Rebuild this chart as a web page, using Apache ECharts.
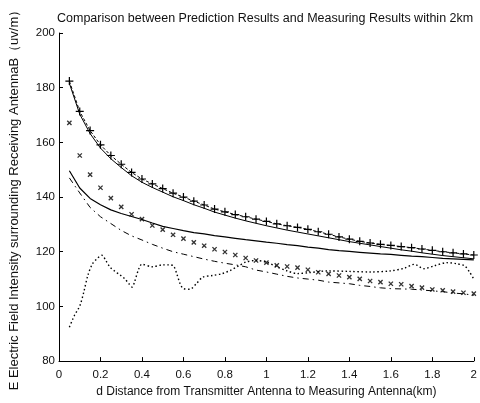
<!DOCTYPE html>
<html>
<head>
<meta charset="utf-8">
<script src="https://cdn.jsdelivr.net/npm/echarts@6/dist/echarts.min.js"></script>
<style>
html,body{margin:0;padding:0;background:#fff;overflow:hidden;}
#c{width:480px;height:403px;}
</style>
</head>
<body>
<div id="c"></div>
<script>
// distance (km) at which the model curves are sampled
var distances = [0.05,0.10,0.15,0.20,0.25,0.30,0.35,0.40,0.45,0.50,0.55,0.60,0.65,0.70,0.75,0.80,0.85,0.90,0.95,1.00,
                 1.05,1.10,1.15,1.20,1.25,1.30,1.35,1.40,1.45,1.50,1.55,1.60,1.65,1.70,1.75,1.80,1.85,1.90,1.95,2.00];
// '+' marked dashed curve
var plusSeries = [182.4,171.3,164.3,159.1,155.2,152.0,149.0,146.6,144.8,143.1,141.4,140.0,138.5,137.1,135.6,134.6,133.6,132.8,131.9,131.1,
                  130.2,129.5,128.9,128.2,127.3,126.4,125.4,124.6,123.8,123.2,122.7,122.3,121.9,121.5,121.0,120.5,120.0,119.6,119.2,118.8];
// upper solid curve
var upperSolid = [181.6,170.3,163.2,157.9,154.0,150.8,147.8,145.4,143.5,141.8,140.1,138.7,137.2,135.9,134.5,133.4,132.3,131.3,130.4,129.5,
                  128.7,127.9,127.2,126.5,125.8,125.1,124.4,123.7,123.1,122.5,121.9,121.3,120.7,120.2,119.6,119.1,118.6,118.2,117.8,117.4];
// 'x' marked points
var crossSeries = [167.1,155.2,148.2,143.4,139.6,136.4,133.7,131.9,129.6,128.1,126.2,124.8,123.4,122.2,120.9,119.9,118.8,117.7,116.8,116.0,
                   115.0,114.6,114.2,113.4,112.5,111.9,111.3,110.7,110.1,109.3,108.9,108.3,108.1,107.4,106.9,106.2,105.9,105.4,105.0,104.7];
// lower solid curve
var lowerSolid = [149.6,143.3,139.5,137.2,135.3,134.0,132.9,131.8,130.5,129.3,128.5,127.7,127.0,126.5,125.9,125.4,124.9,124.4,124.0,123.5,
                  123.1,122.6,122.2,121.7,121.3,120.8,120.4,120.1,119.8,119.5,119.2,119.0,118.7,118.4,118.2,117.9,117.6,117.4,117.2,117.0];
// dash-dot curve
var dashDot = [147.0,141.5,136.2,132.8,130.3,127.8,125.8,124.3,122.7,121.3,120.0,119.1,118.2,117.3,116.5,115.8,115.2,114.5,113.3,112.6,
               111.8,111.0,110.4,110.0,109.6,108.9,108.6,108.3,107.7,107.3,106.8,106.5,106.4,106.3,106.0,105.7,105.4,104.9,104.6,104.1];
// measured (dotted) curve
var measuredDist = [0.05,0.066,0.077,0.093,0.105,0.12,0.139,0.16,0.184,0.207,0.227,0.246,0.27,0.293,0.317,0.337,0.353,0.364,0.384,0.4,
                    0.45,0.5,0.53,0.552,0.568,0.584,0.6,0.631,0.662,0.693,0.74,0.787,0.827,0.866,0.9,0.95,1.0,1.05,1.1,1.15,
                    1.2,1.3,1.4,1.5,1.6,1.666,1.713,1.76,1.807,1.87,1.917,1.956,1.98,2.0];
var measuredVals = [92.4,95.3,97.1,99.1,101.2,105.4,111.3,115.4,117.5,118.7,116.6,114.4,112.8,111.6,110.1,108.3,107.1,108.9,113.6,115.4,
                    114.5,115.2,115.2,114.8,111.9,108.3,106.5,106.3,108.3,110.7,111.3,112.0,113.2,114.8,116.2,116.8,116.2,114.5,113.0,112.0,
                    112.3,113.0,112.8,112.6,113.0,114.0,115.4,113.8,114.8,116.0,115.6,114.8,112.5,110.0];
var xTicks = {min:0, max:2, interval:0.2};
var yTicks = {min:80, max:200, interval:20};

function pairs(xs, ys){ return xs.map(function(x,i){ return [x, ys[i]]; }); }

var PLUS = 'path://M0,4.25h10v1.5h-10z M4.25,0h1.5v10h-1.5z';
var CROSS = 'path://M0,3.9h10v2.2h-10z M3.9,0h2.2v10h-2.2z';
var txt = '#111';
var font = 'Liberation Sans, Arial, sans-serif';

var chart = echarts.init(document.getElementById('c'), null, {renderer:'canvas'});
chart.setOption({
  animation:false,
  backgroundColor:'#fff',
  title:{
    text:'Comparison between Prediction Results and Measuring Results within 2km',
    left:52, top:7,
    textStyle:{fontSize:12.5, fontWeight:'normal', color:txt, fontFamily:font}
  },
  grid:{left:56, top:33, width:424, bottom:34, containLabel:false},
  xAxis:{
    type:'value', min:xTicks.min, max:xTicks.max, interval:xTicks.interval,
    name:'d Distance from Transmitter Antenna to Measuring Antenna(km)',
    nameLocation:'middle', nameGap:22,
    nameTextStyle:{fontSize:12, color:txt, fontFamily:font},
    axisLine:{lineStyle:{color:'#000', width:1}},
    axisTick:{inside:true, length:4, lineStyle:{color:'#000'}},
    axisLabel:{fontSize:11.5, color:txt, margin:8, fontFamily:font},
    splitLine:{show:false}
  },
  yAxis:{
    type:'value', min:yTicks.min, max:yTicks.max, interval:yTicks.interval,
    name:'E Electric Field Intensity surrounding Receiving AntennaB（uv/m）',
    nameLocation:'middle', nameGap:38, nameRotate:90,
    nameTextStyle:{fontSize:13, color:txt, fontFamily:font},
    axisLine:{show:true, lineStyle:{color:'#000', width:1}},
    axisTick:{show:true, inside:true, length:4, lineStyle:{color:'#000'}},
    axisLabel:{fontSize:11.5, color:txt, margin:4, fontFamily:font},
    splitLine:{show:false}
  },
  series:[
    {type:'line', data:pairs(distances, plusSeries), symbol:PLUS, symbolSize:8, showAllSymbol:true,
     itemStyle:{color:'#000'}, lineStyle:{color:'#000', width:1, type:[3,2]}},
    {type:'line', data:pairs(distances, upperSolid), symbol:'none',
     lineStyle:{color:'#000', width:1}},
    {type:'scatter', data:pairs(distances, crossSeries), symbol:CROSS, symbolSize:6, symbolRotate:45,
     itemStyle:{color:'#000'}},
    {type:'line', data:pairs(distances, lowerSolid), symbol:'none',
     lineStyle:{color:'#000', width:1.2}},
    {type:'line', data:pairs(distances, dashDot), symbol:'none',
     lineStyle:{color:'#000', width:1, type:[6,4,1.5,4]}},
    {type:'line', data:pairs(measuredDist, measuredVals), symbol:'none', smooth:0.3,
     lineStyle:{color:'#000', width:1.4, type:[1.5,2.5]}}
  ]
});
</script>
</body>
</html>
